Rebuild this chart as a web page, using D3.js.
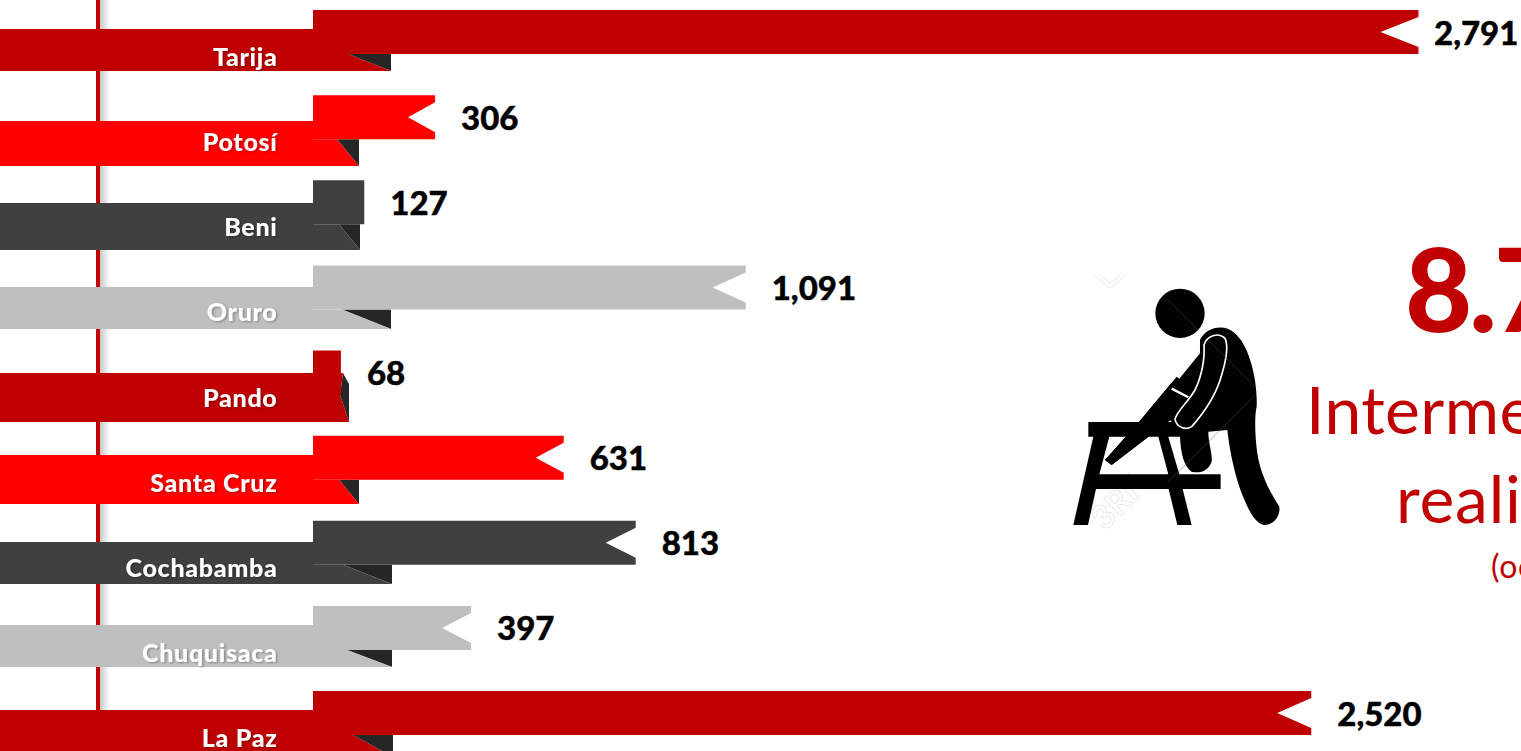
<!DOCTYPE html>
<html><head><meta charset="utf-8">
<script src="https://cdn.jsdelivr.net/npm/d3@7"></script>
<style>html,body{margin:0;padding:0;background:#fff;overflow:hidden}svg{display:block}
text{font-family:Lato,sans-serif}</style></head><body>
<svg id="c" width="1521" height="751"></svg>
<script>
const departments=["Tarija","Potosí","Beni","Oruro","Pando","Santa Cruz","Cochabamba","Chuquisaca","La Paz"];
const values=[2791,306,127,1091,68,631,813,397,2520];
const valueLabels=["2,791","306","127","1,091","68","631","813","397","2,520"];
const barColors=["#C00000","#FF0000","#404040","#BFBFBF","#C00000","#FF0000","#404040","#BFBFBF","#C00000"];
// ribbon layout (pixels), separate from the data
const notchDepth=[38,27,0,33,0,28,30,29,34];
const ribbonTop=[29,121,203,287,373,455,542,625,710];
const ribbonBottom=[71,166,250,329,422,504,584,667,757];
const ribbonRight=[391,359,360,391,349,359,392,392,393];
const foldLeft=[348,337,339,342,341,339,343,347,353];
const headline=[["8.7",1405,332,116,900,-3],["Interme",1306,434,66,400,.4],["reali",1396,523,66,400,.8],["(oc",1491,578,32,400,.6]];
const barLeft=313;

const svg=d3.select("#c");
const defs=svg.append("defs");
const g=defs.append("linearGradient").attr("id","sh");
g.append("stop").attr("offset",0).attr("stop-color","#c8c8c8");
g.append("stop").attr("offset",1).attr("stop-color","#fff");
const f=defs.append("filter").attr("id","ts").attr("x","-10%").attr("y","-20%").attr("width","125%").attr("height","140%");
f.append("feDropShadow").attr("dx",1.5).attr("dy",1).attr("stdDeviation",1).attr("flood-color","#000").attr("flood-opacity",.3);

const x=d3.scaleLinear().domain([0,2791]).range([314,1418.5]);
const y=d3.scaleBand().domain(departments).range([10,735]).paddingInner(1-44/85.125);

svg.append("rect").attr("x",100).attr("y",0).attr("width",10).attr("height",751).attr("fill","url(#sh)");
svg.append("rect").attr("x",96).attr("y",0).attr("width",4).attr("height",751).attr("fill","#C00000");

const row=svg.selectAll("g.row").data(departments).join("g").attr("class","row");
row.append("path").attr("fill","#262626").attr("d",(d,i)=>{
  const b=y(d)+y.bandwidth(),r=ribbonRight[i];
  if(d==="Pando") return `M343 ${ribbonTop[i]}L${r} 384L${r} ${ribbonBottom[i]}L340 395Z`;
  return `M${foldLeft[i]} ${b}L${r} ${b}L${r} ${ribbonBottom[i]}Z`;
});
row.append("path").attr("fill",(d,i)=>barColors[i]).attr("d",(d,i)=>{
  const b=y(d)+y.bandwidth(),r=ribbonRight[i];
  if(d==="Pando") return `M0 ${ribbonTop[i]}H343L340 395L${r} ${ribbonBottom[i]}H0Z`;
  return `M0 ${ribbonTop[i]}H${barLeft}V${b}H${foldLeft[i]}L${r} ${ribbonBottom[i]}H0Z`;
});
row.append("path").attr("fill",(d,i)=>barColors[i]).attr("d",(d,i)=>{
  const t=y(d),h=y.bandwidth(),r=x(values[i]),n=notchDepth[i],e=7;
  return `M${barLeft} ${t}H${r}`+(n?`V${t+e}L${r-n} ${t+h/2}L${r} ${t+h-e}V${t+h}`:`V${t+h}`)+`H${barLeft}Z`;
});
row.append("text").attr("x",277.5).attr("y",(d,i)=>y(d)+56).attr("text-anchor","end")
 .attr("font-size",25).attr("font-weight",900).attr("fill","#fff").attr("letter-spacing",.7).attr("filter","url(#ts)").text(d=>d);
row.append("text").attr("x",(d,i)=>Math.min(x(values[i])+26,1434)).attr("y",(d,i)=>y(d)+y.bandwidth()/2+12.5)
 .attr("font-size",33).attr("font-weight",900).attr("fill","#000").attr("stroke","#000").attr("stroke-width",.4).text((d,i)=>valueLabels[i]);

svg.selectAll("text.h").data(headline).join("text").attr("class","h")
 .attr("x",d=>d[1]).attr("y",d=>d[2]).attr("font-size",d=>d[3]).attr("font-weight",d=>d[4]).attr("letter-spacing",d=>d[5]).attr("fill","#C00000").text(d=>d[0]);

const ic=svg.append("g").attr("transform","translate(1060,230) scale(.3333)");
ic.append("path").attr("fill","none").attr("stroke","#e6e6e6").attr("stroke-width",3)
 .attr("d","M97 132L150 175L202 132M115 132L150 160L185 132");
ic.append("text").attr("transform","translate(135,905) rotate(-45)").attr("font-size",100).attr("font-weight",700)
 .attr("fill","#fff").attr("stroke","#e2e2e2").attr("stroke-width",2).text("3RF");
ic.append("circle").attr("cx",360).attr("cy",250).attr("r",74).attr("fill","#000");
ic.append("path").attr("fill","#000").attr("d",
 "M420 330C435 300 470 285 505 297C535 310 560 350 572 395C585 435 592 490 590 530C583 560 585 620 592 670C600 725 625 780 658 830C662 860 640 885 612 885C585 880 565 840 545 790C525 735 510 670 502 600L445 605C445 640 458 670 455 695C445 722 420 732 395 725C372 710 362 670 360 620L345 590L335 575L320 560L370 540L155 705L135 690L240 572L335 458L350 440L358 446L420 370Z");
ic.append("path").attr("fill","#000").attr("d",
 "M85 576H360V620H325L358 733H482V777H368L395 885H352L326 777H108L84 885H40L100 620H85Z M118 733H325L295 620H148Z");
ic.append("path").attr("fill","#000").attr("d","M240 572L135 690L155 705L370 540L335 458Z");
ic.append("path").attr("fill","none").attr("stroke","#fff").attr("stroke-width",5)
 .attr("d","M432 345C440 318 475 305 495 325C505 345 500 385 485 435C470 490 435 545 395 590C375 603 350 590 345 568C350 545 385 515 405 480C425 440 435 385 432 345Z");
ic.append("path").attr("fill","none").attr("stroke","#fff").attr("stroke-width",7).attr("d","M335 476L385 502");
ic.append("path").attr("fill","none").attr("stroke","#555").attr("stroke-width",1.5)
 .attr("d","M322 207L415 300M445 330L585 470M586 495L325 756");
</script></body></html>
